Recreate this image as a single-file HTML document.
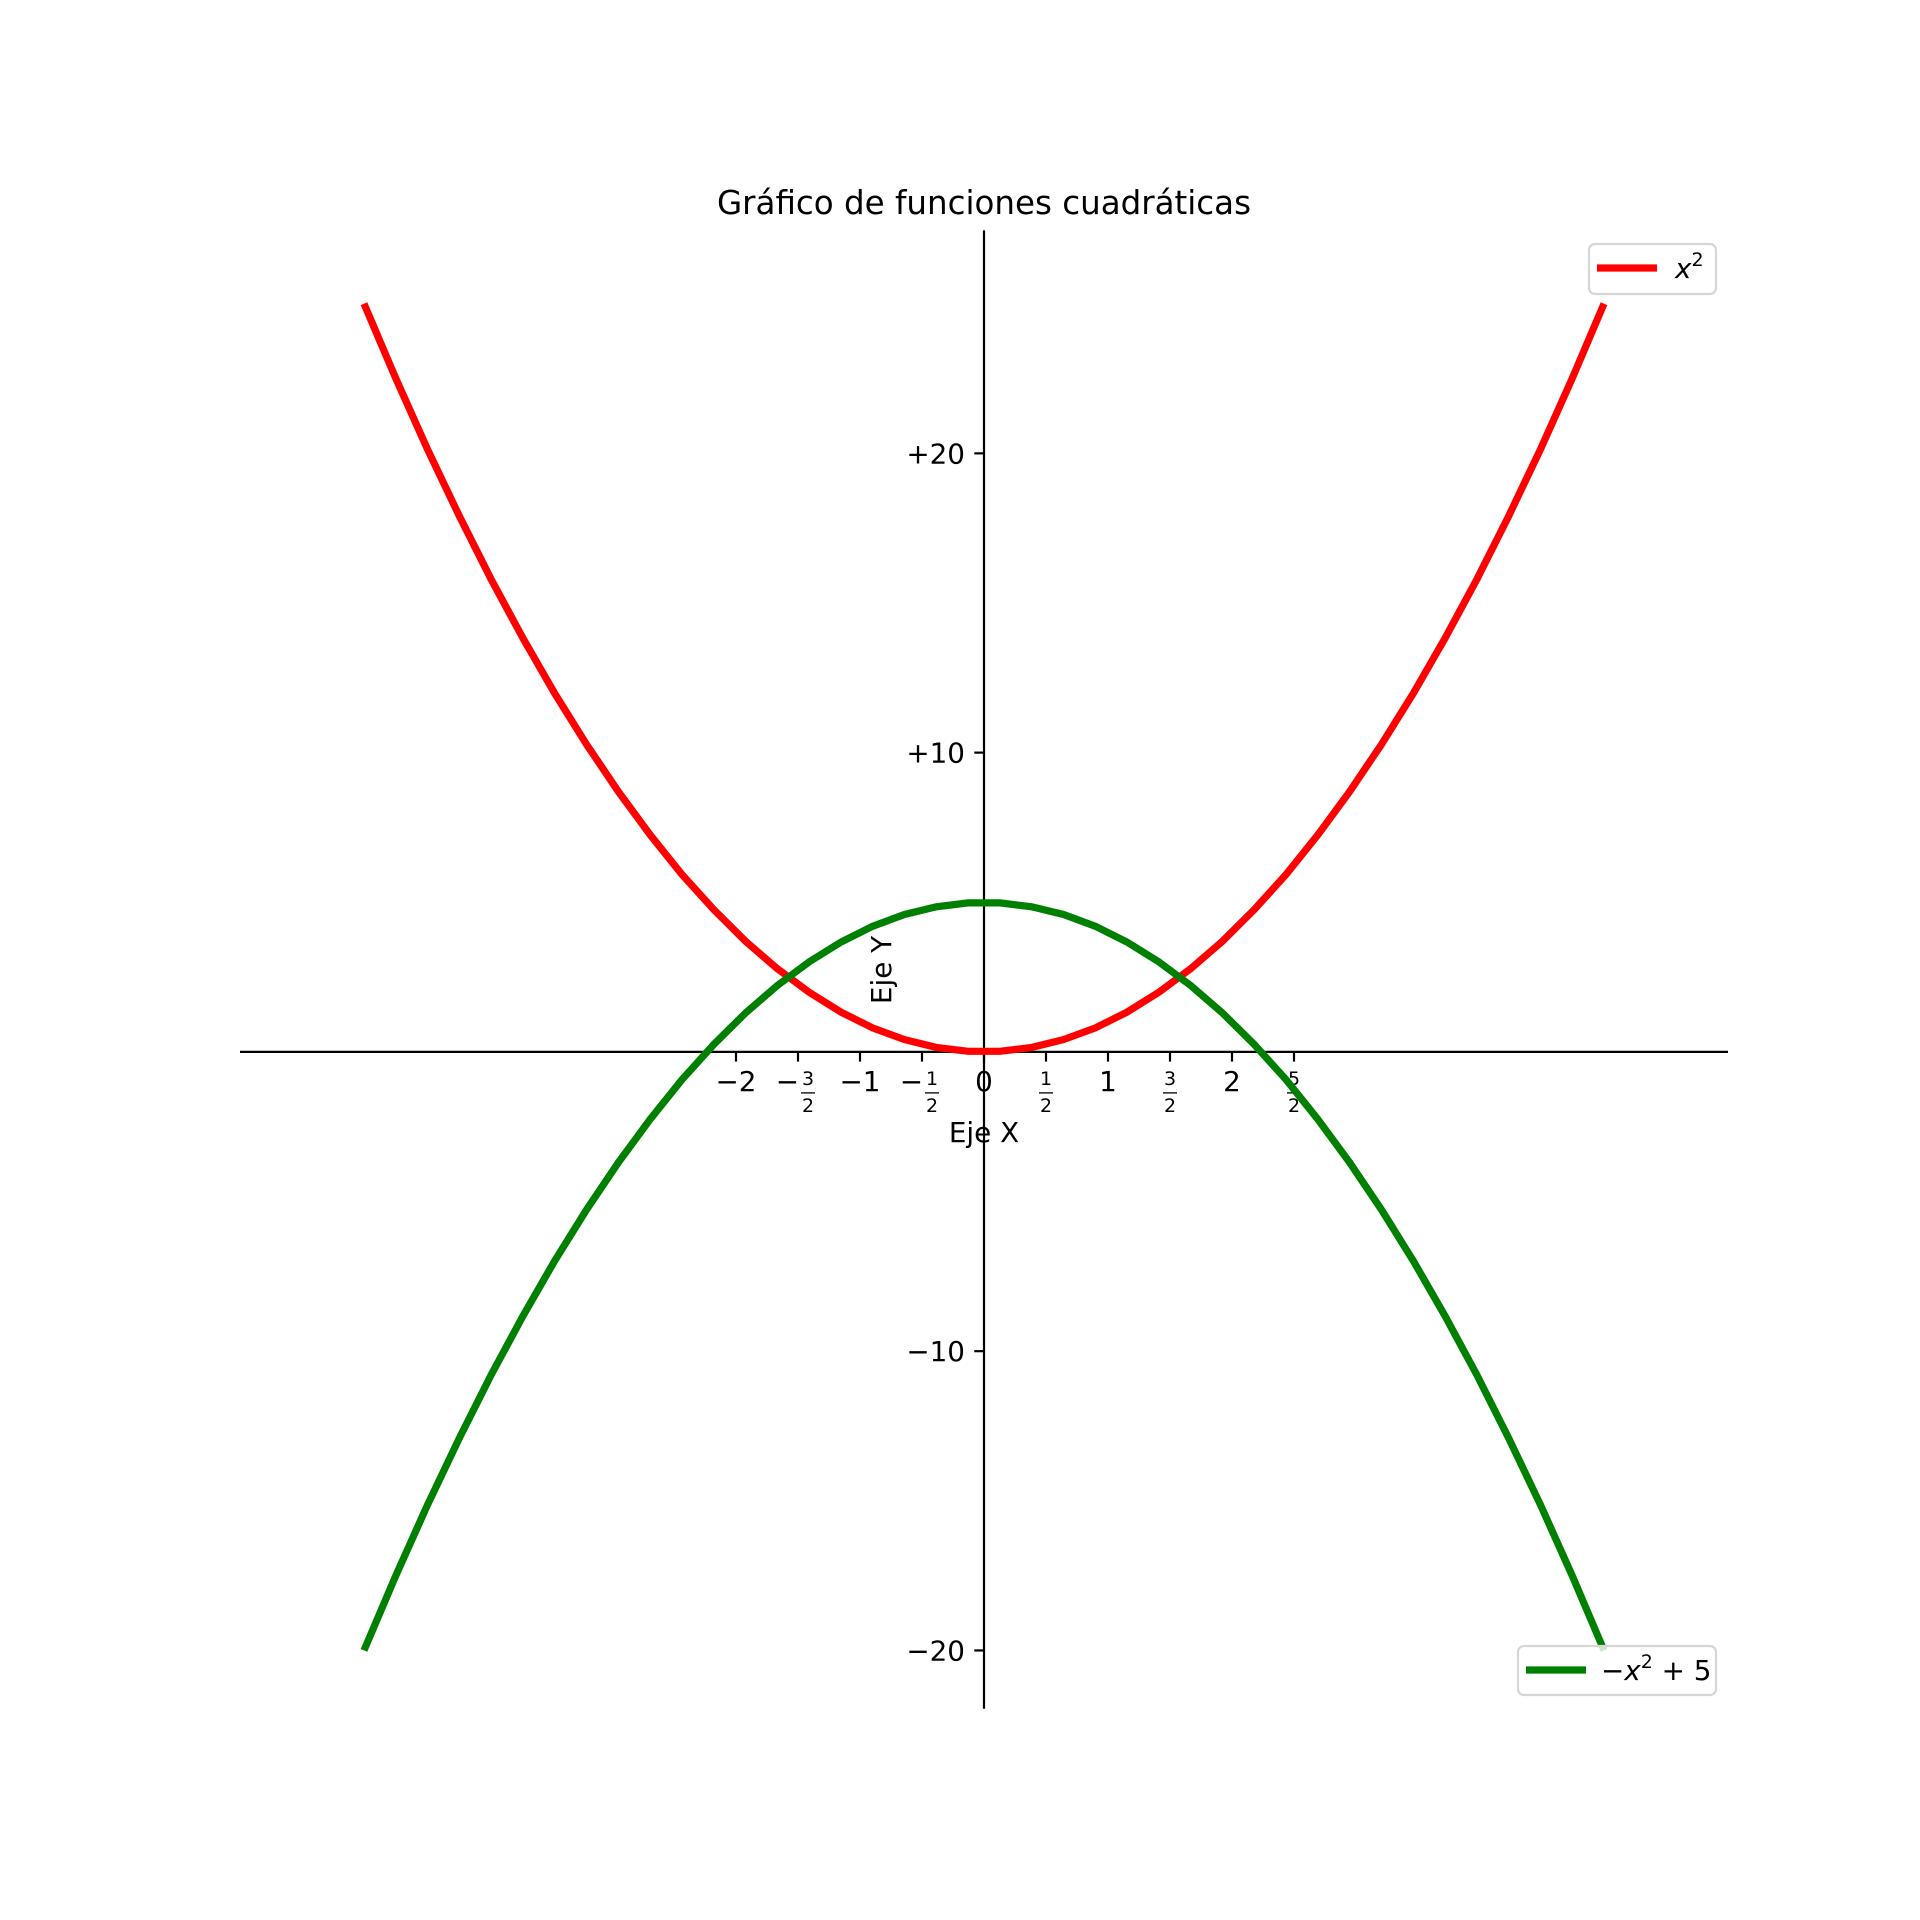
<!DOCTYPE html>
<html><head><meta charset="utf-8"><style>
html,body{margin:0;padding:0;background:#fff}
svg{display:block;font-family:"DejaVu Sans","Liberation Sans",sans-serif}
</style></head><body>
<svg id="chart" width="1920" height="1920" viewBox="0 0 1920 1920" xmlns="http://www.w3.org/2000/svg">
<rect width="1920" height="1920" fill="#fff"/>
<text x="984" y="214" font-size="32.5" text-anchor="middle">Gráfico de funciones cuadráticas</text>
<g id="axes"></g>
<g id="series"></g>
<g id="legend"></g>
</svg>
<script>
const xValues = [-5.000,-4.744,-4.487,-4.231,-3.974,-3.718,-3.462,-3.205,-2.949,-2.692,-2.436,-2.179,-1.923,-1.667,-1.410,-1.154,-0.897,-0.641,-0.385,-0.128,0.128,0.385,0.641,0.897,1.154,1.410,1.667,1.923,2.179,2.436,2.692,2.949,3.205,3.462,3.718,3.974,4.231,4.487,4.744,5.000];
const squareValues = [25.00,22.51,20.13,17.90,15.79,13.82,11.98,10.27,8.70,7.25,5.93,4.75,3.70,2.78,1.99,1.33,0.80,0.41,0.15,0.02,0.02,0.15,0.41,0.80,1.33,1.99,2.78,3.70,4.75,5.93,7.25,8.70,10.27,11.98,13.82,15.79,17.90,20.13,22.51,25.00];
const invertedValues = [-20.00,-17.51,-15.13,-12.90,-10.79,-8.82,-6.98,-5.27,-3.70,-2.25,-0.93,0.25,1.30,2.22,3.01,3.67,4.20,4.59,4.85,4.98,4.98,4.85,4.59,4.20,3.67,3.01,2.22,1.30,0.25,-0.93,-2.25,-3.70,-5.27,-6.98,-8.82,-10.79,-12.90,-15.13,-17.51,-20.00];
const xTicks = [-2,-1.5,-1,-0.5,0,0.5,1,1.5,2,2.5];
const xTickLabels = ["−2","−3/2","−1","−1/2","0","1/2","1","3/2","2","5/2"];
const yTicks = [-20,-10,10,20];
const yTickLabels = ["−20","−10","+10","+20"];

const L=240,R=1728,T=230.4,B=1708.8;
const X0=-6,X1=6,Y0=-21.95,Y1=27.45;
const sx=v=>L+(v-X0)/(X1-X0)*(R-L);
const sy=v=>T+(Y1-v)/(Y1-Y0)*(B-T);
const NS="http://www.w3.org/2000/svg";
function mk(tag,attrs,parent){const e=document.createElementNS(NS,tag);for(const k in attrs)e.setAttribute(k,attrs[k]);parent.appendChild(e);return e;}
const axes=document.getElementById('axes'),series=document.getElementById('series');

let e=mk('line',{x1:L,x2:R,y1:sy(0),y2:sy(0),stroke:'#000','stroke-width':2.2},axes);


e=mk('line',{x1:sx(0),x2:sx(0),y1:T,y2:B,stroke:'#000','stroke-width':2.2},axes);



xTicks.forEach((v,i)=>{
  const x=sx(v),y=sy(0);
  const t=mk('line',{x1:x,x2:x,y1:y,y2:y+9.7,stroke:'#000','stroke-width':2.2},axes);
  
  
  const lab=xTickLabels[i];
  const g=mk('g',{},axes);
  
  
  if(lab.includes('/')){
    const neg=lab.startsWith('−');
    const [n,d]=lab.replace('−','').split('/');
    let fx=x;
    if(neg){ mk('text',{x:x+1,y:y+39,'font-size':27.8,'text-anchor':'end'},g).textContent='−'; fx=x+10; }
    mk('text',{x:fx,y:y+33,'font-size':19,'text-anchor':'middle'},g).textContent=n;
    mk('line',{x1:fx-7,x2:fx+7,y1:y+41,y2:y+41,stroke:'#000','stroke-width':1.3},g);
    mk('text',{x:fx,y:y+60,'font-size':19,'text-anchor':'middle'},g).textContent=d;
  } else {
    mk('text',{x:x,y:y+39,'font-size':27.8,'text-anchor':'middle'},g).textContent=lab;
  }
});
yTicks.forEach((v,i)=>{
  const x=sx(0),y=sy(v);
  const t=mk('line',{x1:x-9.7,x2:x,y1:y,y2:y,stroke:'#000','stroke-width':2.2},axes);
  
  
  const tx=mk('text',{x:x-19,y:y+10,'font-size':27.8,'text-anchor':'end'},axes);
  tx.textContent=yTickLabels[i];
  
  
});
e=mk('text',{x:sx(0),y:1142,'font-size':27.8,'text-anchor':'middle'},axes);
e.textContent='Eje X';


e=mk('text',{x:0,y:0,'font-size':27.8,'text-anchor':'middle',transform:'translate(891,970) rotate(-90)'},axes);
e.textContent='Eje Y';



function pts(ys){return xValues.map((x,i)=>sx(x).toFixed(1)+','+sy(ys[i]).toFixed(1)).join(' ');}
e=mk('polyline',{points:pts(squareValues),fill:'none',stroke:'#ff0000','stroke-width':7.2},series);


e=mk('polyline',{points:pts(invertedValues),fill:'none',stroke:'#008000','stroke-width':7.2},series);


</script>
<script>
(function(){
const NS="http://www.w3.org/2000/svg";
const lg=document.getElementById('legend');
function mk(tag,attrs,parent){const e=document.createElementNS(NS,tag);for(const k in attrs)e.setAttribute(k,attrs[k]);parent.appendChild(e);return e;}
let g=mk('g',{},lg);


mk('rect',{x:1589,y:244,width:127,height:50,rx:6,fill:'#fff','fill-opacity':0.8,stroke:'#d6d6d6','stroke-width':2.2},g);
mk('line',{x1:1597,x2:1657,y1:268,y2:268,stroke:'#ff0000','stroke-width':7.2},g);
let t=mk('text',{x:1675,y:278,'font-size':27.8},g);
t.innerHTML='<tspan font-style="italic">x</tspan><tspan font-size="19" dy="-12">2</tspan>';
g=mk('g',{},lg);


mk('rect',{x:1518,y:1646,width:198,height:49,rx:6,fill:'#fff','fill-opacity':0.8,stroke:'#d6d6d6','stroke-width':2.2},g);
mk('line',{x1:1526,x2:1586,y1:1670,y2:1670,stroke:'#008000','stroke-width':7.2},g);
t=mk('text',{x:1601,y:1680,'font-size':27.8},g);
t.innerHTML='−<tspan font-style="italic">x</tspan><tspan font-size="19" dy="-12">2</tspan><tspan dy="12"> + 5</tspan>';
})();
</script>
</body></html>
